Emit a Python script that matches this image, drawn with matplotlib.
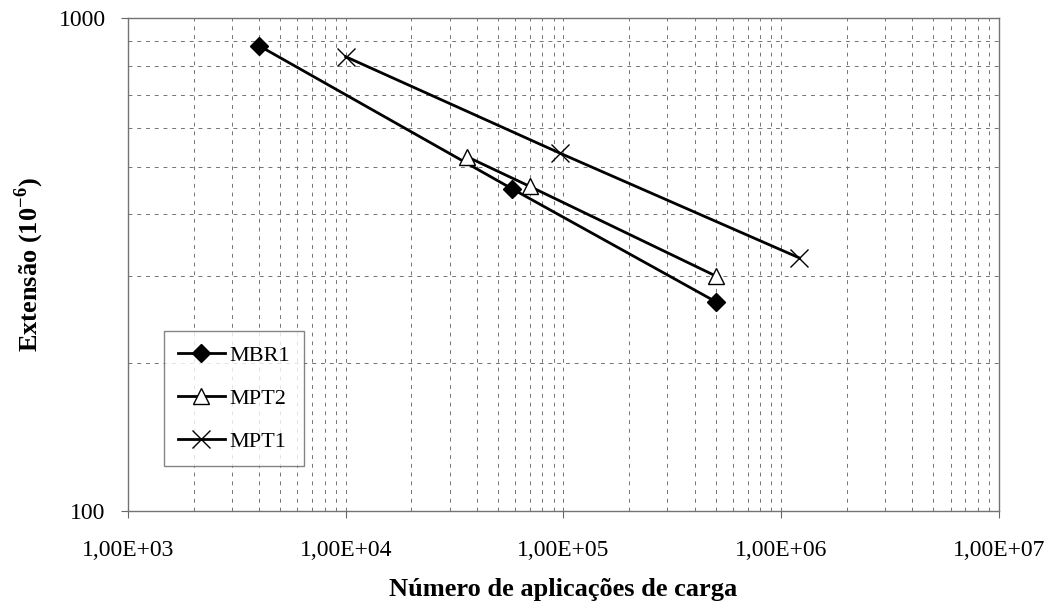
import numpy as np
import matplotlib
matplotlib.use('Agg')
import matplotlib.pyplot as plt
from matplotlib.ticker import FuncFormatter, LogLocator, NullFormatter

plt.rcParams['font.family'] = ['Liberation Serif', 'DejaVu Serif']
plt.rcParams['mathtext.fontset'] = 'custom'
plt.rcParams['mathtext.rm'] = 'Liberation Serif:bold'
plt.rcParams['mathtext.bf'] = 'Liberation Serif:bold'

# data
mbr1_n = [4000, 58000, 500000]
mbr1_e = [880, 451, 266]
mpt2_n = [36000, 70000, 500000]
mpt2_e = [524, 456, 300]
mpt1_n = [10000, 96000, 1200000]
mpt1_e = [836, 533, 327]

fig = plt.figure(figsize=(10.62, 6.14), dpi=100)
ax = fig.add_axes([0.1205, 0.1678, 0.8202, 0.8022])

ax.plot(mbr1_n, mbr1_e, color='black', lw=2, marker='D', markersize=9,
        markerfacecolor='black', label='MBR1')
ax.plot(mpt2_n, mpt2_e, color='black', lw=2, marker='^', markersize=12,
        markerfacecolor='white', markeredgewidth=1, label='MPT2')
ax.plot(mpt1_n, mpt1_e, color='black', lw=2, marker='x', markersize=13,
        markeredgewidth=1, label='MPT1')

ax.set_xscale('log')
ax.set_yscale('log')
ax.set_xlim(1e3, 1e7)
ax.set_ylim(100, 1000)

ax.xaxis.set_major_locator(LogLocator(base=10, numticks=10))
ax.xaxis.set_minor_locator(LogLocator(base=10, subs=np.arange(2, 10), numticks=20))
ax.xaxis.set_minor_formatter(NullFormatter())
ax.xaxis.set_major_formatter(FuncFormatter(lambda v, p: '1,00E+%02d' % round(np.log10(v))))
ax.yaxis.set_major_locator(LogLocator(base=10, numticks=10))
ax.yaxis.set_minor_locator(LogLocator(base=10, subs=np.arange(2, 10), numticks=20))
ax.yaxis.set_minor_formatter(NullFormatter())
ax.yaxis.set_major_formatter(FuncFormatter(lambda v, p: '%d' % round(v)))

ax.grid(True, which='both', color='0.45', linestyle=(0, (4, 5)), lw=0.7)
ax.tick_params(which='major', direction='out', length=5, color='0.4', labelsize=17)
ax.tick_params(axis='x', pad=16)
ax.tick_params(axis='y', pad=11)
ax.tick_params(which='minor', length=0)
for s in ax.spines.values():
    s.set_color('0.45')
    s.set_linewidth(1)

ax.set_xlabel('Número de aplicações de carga', fontsize=19, fontweight='bold', labelpad=12)
ax.set_ylabel('Extensão (10$^{\\mathrm{-6}}$)', fontsize=19, fontweight='bold', labelpad=9)

leg = ax.legend(loc='lower left', bbox_to_anchor=(0.041, 0.091), borderaxespad=0,
                fontsize=16, frameon=True, fancybox=False, handlelength=2.1,
                labelspacing=1.0, borderpad=0.65, handletextpad=0.2)
leg.get_frame().set_edgecolor('0.4')
leg.get_frame().set_linewidth(1)

fig.savefig('out.png', dpi=100)
